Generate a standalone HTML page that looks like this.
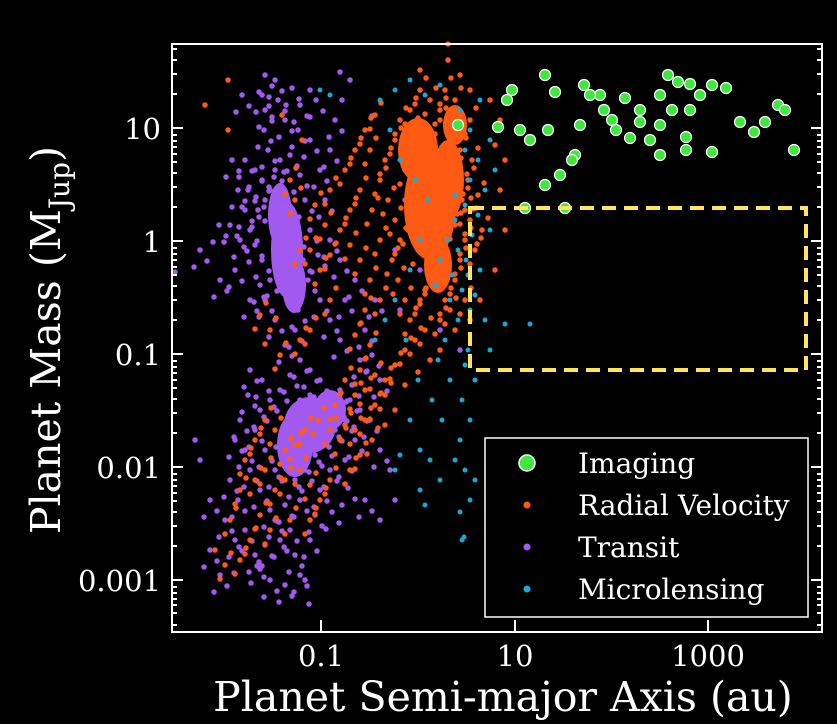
<!DOCTYPE html>
<html><head><meta charset="utf-8"><style>
html,body{margin:0;padding:0;background:#000;}
svg{display:block;font-family:"DejaVu Serif","Liberation Serif",serif;}
</style></head><body>
<svg width="837" height="724" xmlns="http://www.w3.org/2000/svg">
<defs>
<path id="pp" fill="none" stroke="#a259f0" stroke-width="5.5" stroke-linecap="round" d="
M250 230h0M255 245h0M262 260h0M258 210h0M265 200h0M270 190h0M262 180h0M275 170h0M280 160h0M268 150h0M290 155h0M300 175h0M305 200h0M310 230h0M303 260h0M308 280h0M298 310h0M295 330h0M285 345h0M275 320h0M265 300h0M260 285h0M270 280h0M245 210h0M240 240h0M235 270h0M250 300h0M248 190h0M255 170h0M264 130h0M285 120h0M298 130h0M310 140h0M320 170h0M325 200h0M318 255h0M320 300h0M278 100h0M262 95h0M292 88h0M275 80h0M300 105h0M316 100h0M330 150h0M335 120h0M238 190h0M230 225h0M220 280h0M200 250h0M219 225h0M265 110h0M242 95h0M265 75h0M245 160h0M232 160h0M300 360h0M310 370h0M320 380h0M290 375h0M280 390h0M270 400h0M260 410h0M255 430h0M265 450h0M275 470h0M285 460h0M295 480h0M305 470h0M315 455h0M325 445h0M335 430h0M345 420h0M350 400h0M340 390h0M330 395h0M360 410h0M355 440h0M345 460h0M330 470h0M320 490h0M300 500h0M285 505h0M270 510h0M260 490h0M250 470h0M245 450h0M240 420h0M235 440h0M248 395h0M230 480h0M238 500h0M225 520h0M235 540h0M245 530h0M255 555h0M265 545h0M280 540h0M290 530h0M275 520h0M210 550h0M220 575h0M210 500h0M270 580h0M285 585h0M300 575h0M257 566h0M380 380h0M372 355h0M365 330h0M375 300h0M360 360h0M370 420h0M380 450h0M365 500h0M348 488h0M332 512h0M315 515h0M310 540h0M295 555h0M340 340h0M330 320h0M345 300h0M355 280h0M340 260h0M330 240h0M325 410h0M300 400h0M310 395h0M290 420h0M282 430h0M340 410h0M352 385h0M262 380h0M250 370h0"/>
<path id="po" fill="none" stroke="#ff5a14" stroke-width="5.5" stroke-linecap="round" d="
M400 120h0M410 110h0M395 140h0M385 160h0M380 180h0M388 200h0M395 220h0M400 240h0M392 260h0M398 280h0M405 300h0M410 320h0M415 340h0M420 300h0M425 290h0M455 280h0M460 260h0M465 240h0M470 220h0M462 200h0M468 180h0M472 160h0M460 150h0M450 130h0M440 110h0M430 100h0M420 90h0M445 90h0M455 100h0M470 120h0M478 195h0M465 300h0M450 310h0M440 320h0M425 330h0M405 350h0M395 365h0M385 380h0M375 375h0M365 390h0M355 395h0M345 380h0M335 405h0M345 425h0M355 430h0M365 420h0M375 405h0M385 395h0M372 440h0M360 455h0M350 470h0M340 440h0M330 430h0M318 420h0M305 430h0M295 445h0M285 450h0M275 430h0M265 420h0M255 440h0M245 460h0M255 480h0M265 470h0M275 490h0M285 480h0M300 470h0M310 485h0M320 500h0M290 520h0M270 530h0M260 515h0M250 540h0M240 560h0M225 565h0M230 520h0M240 490h0M310 520h0M330 480h0M360 370h0M370 345h0M355 335h0M365 310h0M380 300h0M370 280h0M360 260h0M350 245h0M340 230h0M330 255h0M320 270h0M310 250h0M325 225h0M315 205h0M330 190h0M345 170h0M355 150h0M365 130h0M375 115h0M370 150h0M360 190h0M372 210h0M380 240h0M350 210h0M300 250h0M295 200h0M290 180h0M270 330h0M260 315h0M280 355h0M330 300h0M310 330h0M300 340h0M440 120h0M450 140h0M455 170h0M412 130h0M405 170h0M415 190h0M408 230h0M418 250h0M430 280h0M445 300h0M455 225h0M465 210h0M475 250h0M482 230h0"/>
</defs>
<rect width="837" height="724" fill="#000"/>
<!-- transit -->
<g fill="#a259f0">
<ellipse cx="287" cy="250" rx="16" ry="48"/>
<ellipse cx="280" cy="215" rx="12" ry="32"/>
<ellipse cx="294" cy="285" rx="12" ry="28"/>
<ellipse cx="310" cy="425" rx="26" ry="28"/>
<ellipse cx="295" cy="445" rx="18" ry="32"/>
<ellipse cx="330" cy="410" rx="16" ry="20"/>
</g>
<use href="#pp"/>
<use href="#pp" transform="translate(7,11)"/>
<use href="#pp" transform="translate(-6,17)"/>
<path fill="none" stroke="#a259f0" stroke-width="5.5" stroke-linecap="round" d="M175 272h0M309 604h0M234 573h0M260 569h0M305 580h0M195 440h0M200 460h0M342 100h0M350 80h0M340 72h0M372 116h0M390 470h0M395 500h0M380 520h0M420 270h0M440 330h0M460 350h0M400 310h0M395 250h0M405 200h0M415 160h0M310 90h0"/>
<!-- RV -->
<g fill="#ff5a14">
<ellipse cx="430" cy="205" rx="26" ry="55"/>
<ellipse cx="418" cy="150" rx="20" ry="32"/>
<ellipse cx="448" cy="180" rx="16" ry="40"/>
<ellipse cx="438" cy="265" rx="14" ry="28"/>
<ellipse cx="455" cy="125" rx="12" ry="20"/>
</g>
<use href="#po"/>
<use href="#po" transform="translate(6,-12)"/>
<use href="#po" transform="translate(-5,14)"/>
<path fill="none" stroke="#ff5a14" stroke-width="5.5" stroke-linecap="round" d="M448 44h0M448 60h0M420 70h0M460 75h0M470 90h0M490 100h0M500 120h0M495 145h0M505 160h0M500 190h0M505 230h0M495 270h0M480 300h0M470 320h0M455 330h0M440 350h0M430 360h0M418 372h0M405 385h0M395 410h0M385 425h0M228 80h0M205 105h0M282 115h0M228 130h0M302 140h0M215 550h0"/>
<!-- Microlensing -->
<path fill="none" stroke="#19a9d8" stroke-width="5" stroke-linecap="round" d="
M478 160h0M470 180h0M465 205h0M455 220h0M448 240h0M440 260h0M452 275h0M462 290h0M470 310h0M458 320h0M445 340h0M438 360h0M450 380h0M462 400h0M470 420h0M460 440h0M455 460h0M465 470h0M475 480h0M470 500h0M460 512h0M440 480h0M430 460h0M420 450h0M410 420h0M400 455h0M395 470h0M420 490h0M425 505h0M410 270h0M420 240h0M428 200h0M415 180h0M400 160h0M390 130h0M380 100h0M395 90h0M410 80h0M425 95h0M440 85h0M460 110h0M470 130h0M480 100h0M490 140h0M495 170h0M485 190h0M490 230h0M480 270h0M475 295h0M485 320h0M490 350h0M505 324h0M530 324h0M462 540h0M464 537h0M432 400h0M442 420h0M418 380h0M406 340h0M395 300h0M385 320h0M375 340h0M468 350h0M475 380h0M465 365h0M450 300h0M435 285h0M458 250h0M466 260h0M330 95h0M320 90h0M472 235h0M478 215h0M468 275h0M455 195h0M465 150h0"/>
<!-- Imaging -->
<g fill="#3ee83e" stroke="#fff" stroke-width="1.2">
<circle cx="512" cy="90" r="5.5"/><circle cx="507" cy="100" r="5.5"/><circle cx="545" cy="75" r="5.5"/><circle cx="555" cy="92" r="5.5"/><circle cx="584" cy="85" r="5.5"/><circle cx="600" cy="95" r="5.5"/><circle cx="612" cy="120" r="5.5"/><circle cx="625" cy="98" r="5.5"/><circle cx="640" cy="110" r="5.5"/><circle cx="660" cy="95" r="5.5"/><circle cx="668" cy="75" r="5.5"/><circle cx="678" cy="82" r="5.5"/><circle cx="690" cy="84" r="5.5"/><circle cx="700" cy="95" r="5.5"/><circle cx="712" cy="85" r="5.5"/><circle cx="726" cy="88" r="5.5"/><circle cx="740" cy="122" r="5.5"/><circle cx="754" cy="132" r="5.5"/><circle cx="778" cy="105" r="5.5"/><circle cx="785" cy="110" r="5.5"/><circle cx="765" cy="122" r="5.5"/><circle cx="794" cy="150" r="5.5"/><circle cx="686" cy="137" r="5.5"/><circle cx="686" cy="150" r="5.5"/><circle cx="712" cy="152" r="5.5"/><circle cx="660" cy="155" r="5.5"/><circle cx="660" cy="125" r="5.5"/><circle cx="630" cy="138" r="5.5"/><circle cx="640" cy="122" r="5.5"/><circle cx="580" cy="125" r="5.5"/><circle cx="575" cy="155" r="5.5"/><circle cx="560" cy="175" r="5.5"/><circle cx="572" cy="160" r="5.5"/><circle cx="545" cy="185" r="5.5"/><circle cx="565" cy="208" r="5.5"/><circle cx="525" cy="208" r="5.5"/><circle cx="548" cy="130" r="5.5"/><circle cx="520" cy="130" r="5.5"/><circle cx="530" cy="140" r="5.5"/><circle cx="590" cy="95" r="5.5"/><circle cx="604" cy="110" r="5.5"/><circle cx="616" cy="130" r="5.5"/><circle cx="650" cy="140" r="5.5"/><circle cx="672" cy="110" r="5.5"/><circle cx="690" cy="110" r="5.5"/><circle cx="458" cy="125" r="5.5"/><circle cx="498" cy="127" r="5.5"/>
</g>
<rect x="470" y="208" width="336" height="162" fill="none" stroke="#ffe45c" stroke-width="4" stroke-dasharray="14,8"/>
<!-- axes -->
<path fill="none" stroke="#fff" stroke-width="2" d="
M172 128h11M822 128h-11M172 241h11M822 241h-11M172 354h11M822 354h-11M172 467h11M822 467h-11M172 580h11M822 580h-11
M172 94h5M172 74h5M172 60h5M172 49h5M172 207h5M172 187h5M172 173h5M172 162h5M172 154h5M172 147h5M172 141h5M172 135h5
M172 320h5M172 300h5M172 286h5M172 275h5M172 267h5M172 260h5M172 254h5M172 248h5
M172 433h5M172 413h5M172 399h5M172 388h5M172 380h5M172 373h5M172 367h5M172 361h5
M172 546h5M172 526h5M172 512h5M172 501h5M172 493h5M172 486h5M172 480h5M172 474h5
M172 625h5M172 613h5M172 605h5M172 599h5M172 593h5M172 587h5
M822 94h-5M822 74h-5M822 60h-5M822 49h-5M822 207h-5M822 187h-5M822 173h-5M822 162h-5M822 154h-5M822 147h-5M822 141h-5M822 135h-5
M822 320h-5M822 300h-5M822 286h-5M822 275h-5M822 267h-5M822 260h-5M822 254h-5M822 248h-5
M822 433h-5M822 413h-5M822 399h-5M822 388h-5M822 380h-5M822 373h-5M822 367h-5M822 361h-5
M822 546h-5M822 526h-5M822 512h-5M822 501h-5M822 493h-5M822 486h-5M822 480h-5M822 474h-5
M822 625h-5M822 613h-5M822 605h-5M822 599h-5M822 593h-5M822 587h-5
M321 632v-12M515 632v-12M708 632v-12"/>
<rect x="172" y="44" width="650" height="588" fill="none" stroke="#fff" stroke-width="2"/>
<g fill="#fff" font-size="29" text-anchor="end">
<text x="161" y="139">10</text>
<text x="161" y="252">1</text>
<text x="161" y="365">0.1</text>
<text x="161" y="478">0.01</text>
<text x="161" y="591">0.001</text>
</g>
<g fill="#fff" font-size="29" text-anchor="middle">
<text x="321" y="666">0.1</text>
<text x="515" y="666">10</text>
<text x="708" y="666">1000</text>
</g>
<text x="503" y="711" fill="#fff" font-size="41" text-anchor="middle">Planet Semi-major Axis (au)</text>
<text transform="translate(60,340) rotate(-90)" fill="#fff" font-size="41" text-anchor="middle">Planet Mass (M<tspan font-size="28" dy="9">Jup</tspan><tspan dy="-9">)</tspan></text>
<rect x="485" y="438" width="323" height="179" fill="#000" stroke="#fff" stroke-width="1.5"/>
<circle cx="527" cy="463" r="8" fill="#3ee83e" stroke="#fff" stroke-width="1.5"/>
<circle cx="527" cy="505" r="3.5" fill="#ff5a14"/>
<circle cx="527" cy="547" r="3.5" fill="#a259f0"/>
<circle cx="527" cy="589" r="3.5" fill="#19a9d8"/>
<g fill="#fff" font-size="28">
<text x="578" y="473">Imaging</text>
<text x="578" y="515">Radial Velocity</text>
<text x="578" y="557">Transit</text>
<text x="578" y="599">Microlensing</text>
</g>
</svg>
</body></html>
